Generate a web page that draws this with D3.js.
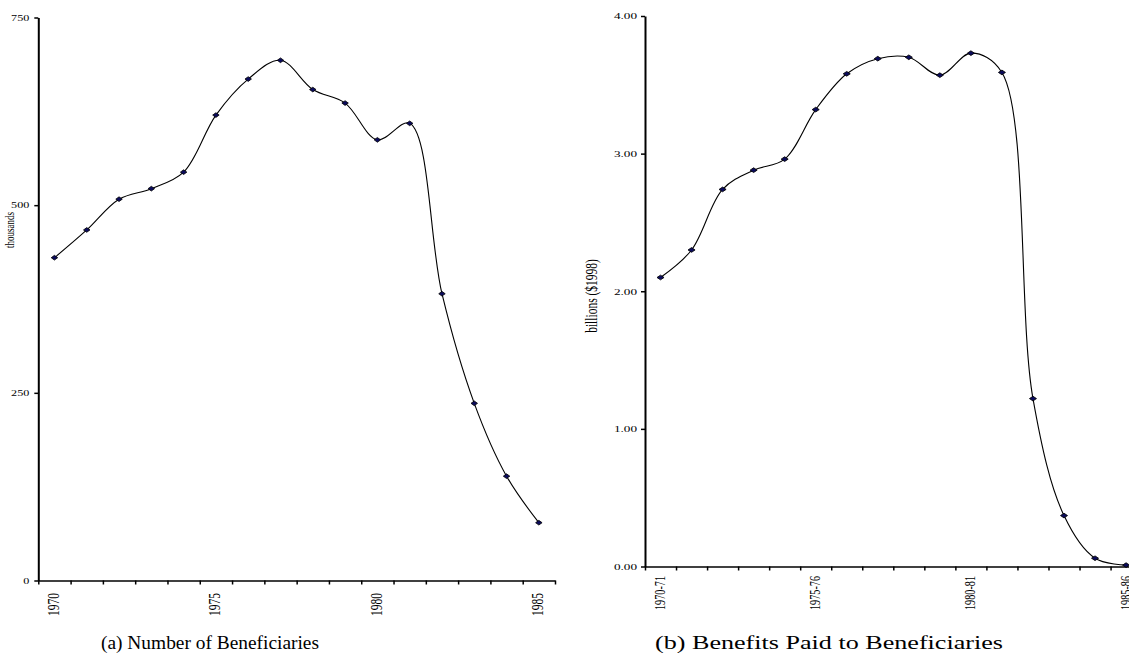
<!DOCTYPE html>
<html>
<head>
<meta charset="utf-8">
<script src="https://cdn.jsdelivr.net/npm/d3@7"></script>
<style>
  body { margin: 0; background: #fff; }
  svg { display: block; }
  .tick text { font-family: "Liberation Serif", serif; fill: #000; }
  .caption { font-family: "Liberation Serif", serif; font-size: 18px; }
</style>
</head>
<body>
<div id="chart"></div>
<script>
// (a) number of beneficiaries, thousands
var years = ["1970","1971","1972","1973","1974","1975","1976","1977",
             "1978","1979","1980","1981","1982","1983","1984","1985"];
var beneficiaries = [430, 467, 508, 522, 544, 620, 668, 693,
                     654, 636, 587, 609, 382, 236, 139, 77];
var yearLabels = ["1970","1975","1980","1985"];
var beneTicks = [0, 250, 500, 750];

// (b) benefits paid, billions ($1998)
var fiscalYears = ["1970-71","1971-72","1972-73","1973-74","1974-75","1975-76","1976-77","1977-78",
                   "1978-79","1979-80","1980-81","1981-82","1982-83","1983-84","1984-85","1985-86"];
var benefits = [2.10, 2.30, 2.74, 2.88, 2.96, 3.32, 3.58, 3.69,
                3.70, 3.57, 3.73, 3.59, 1.22, 0.37, 0.06, 0.01];
var fiscalLabels = ["1970-71","1975-76","1980-81","1985-86"];
var benefitTicks = [0, 1, 2, 3, 4];

var W = 1129, H = 656;
var svg = d3.select("#chart").append("svg").attr("width", W).attr("height", H);

function panel(opts) {
  var SX = opts.sx; // each panel is stretched sideways a bit
  var g = svg.append("g");
  var x = d3.scaleBand().domain(opts.cats).range(opts.xr).padding(0);
  var y = d3.scaleLinear().domain(opts.yd).range(opts.yr);
  var cx = function(i) { return x(opts.cats[i]) + x.bandwidth() / 2; };

  // category boundary ticks (excel style)
  var xb = d3.scaleLinear().domain([0, opts.cats.length]).range(opts.xr);
  g.append("g")
    .attr("transform", "translate(0," + opts.yr[0] + ")")
    .call(d3.axisBottom(xb).tickValues(d3.range(opts.cats.length + 1)).tickFormat("").tickSize(4).tickSizeOuter(0))
    .call(function(s) { s.select(".domain").attr("stroke-width", 1.6); s.selectAll("line").attr("stroke-width", 1.5); });

  // category labels, rotated
  var lab = g.append("g")
    .attr("transform", "translate(0," + opts.yr[0] + ")")
    .call(d3.axisBottom(x).tickValues(opts.labels).tickSize(0))
    .call(function(s) { s.select(".domain").remove(); });
  lab.selectAll("text")
    .attr("font-size", opts.labSize)
    .attr("text-anchor", "end")
    .attr("x", 0).attr("y", 0).attr("dy", 0)
    .attr("transform", "translate(4.5," + opts.labGap + ") scale(" + SX + ",1) rotate(-90)");

  // value axis
  var ya = g.append("g")
    .attr("transform", "translate(" + opts.xr[0] + ",0)")
    .call(d3.axisLeft(y).tickValues(opts.ticks).tickFormat(opts.fmt).tickSize(4).tickSizeOuter(0))
    .call(function(s) { s.select(".domain").attr("stroke-width", 2); s.selectAll("line").attr("stroke-width", 1.5); });
  ya.selectAll("text")
    .attr("font-size", 8.8)
    .attr("x", -opts.tickGap / SX)
    .attr("transform", "scale(" + SX + ",1)");

  g.append("text")
    .attr("transform", "translate(" + opts.titleX + "," + opts.titleY + ") scale(" + SX + ",1) rotate(-90)")
    .attr("text-anchor", "middle")
    .attr("font-family", "Liberation Serif, serif")
    .attr("font-size", opts.titleSize)
    .text(opts.title);

  var line = d3.line()
    .x(function(d, i) { return cx(i); })
    .y(function(d) { return y(d); })
    .curve(d3.curveCatmullRom.alpha(0.5));

  g.append("path")
    .datum(opts.values)
    .attr("d", line)
    .attr("fill", "none")
    .attr("stroke", "#000")
    .attr("stroke-width", 1.1);

  g.selectAll(".mk")
    .data(opts.values)
    .enter().append("path")
    .attr("class", "mk")
    .attr("d", d3.symbol(d3.symbolSquare, 11))
    .attr("transform", function(d, i) {
      return "translate(" + cx(i) + "," + y(d) + ") scale(" + SX + ",1) rotate(45)";
    })
    .attr("fill", "#0b0b5c")
    .attr("stroke", "#000")
    .attr("stroke-width", 0.6);

  svg.append("text")
    .attr("class", "caption")
    .attr("x", opts.capX - opts.capW / 2)
    .attr("y", 649)
    .attr("textLength", opts.capW)
    .attr("lengthAdjust", "spacingAndGlyphs")
    .text(opts.caption);
}

panel({
  cats: years, values: beneficiaries, labels: yearLabels, ticks: beneTicks, sx: 1.38,
  xr: [38.3, 555], yd: [0, 750], yr: [580.5, 17.5], fmt: d3.format("d"),
  labSize: 11.5, labGap: 12.5, tickGap: 9, title: "thousands", titleX: 14, titleY: 230, titleSize: 9,
  caption: "(a) Number of Beneficiaries", capX: 210, capW: 218
});

panel({
  cats: fiscalYears, values: benefits, labels: fiscalLabels, ticks: benefitTicks, sx: 1.5,
  xr: [645, 1141.6], yd: [0, 4], yr: [566.5, 16], fmt: d3.format(".2f"),
  labSize: 10.2, labGap: 9.5, tickGap: 8, title: "billions ($1998)", titleX: 597, titleY: 296, titleSize: 11.5,
  caption: "(b) Benefits Paid to Beneficiaries", capX: 829, capW: 348
});
</script>
</body>
</html>
